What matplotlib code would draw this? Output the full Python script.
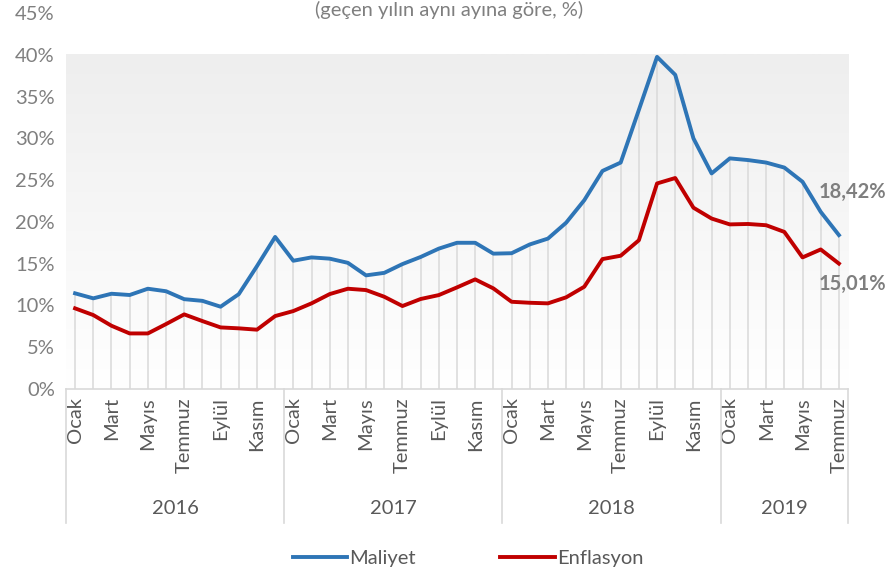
import matplotlib
matplotlib.use("Agg")
import matplotlib.pyplot as plt
import numpy as np

# monthly yoy change, Jan 2016 - Jul 2019 (%)
maliyet = [11.45, 10.85, 11.4, 11.25, 12.0, 11.7, 10.75, 10.55, 9.85, 11.35, 14.7, 18.2,
           15.35, 15.75, 15.6, 15.1, 13.6, 13.9, 14.95, 15.8, 16.8, 17.5, 17.5, 16.2,
           16.25, 17.3, 18.0, 19.9, 22.6, 26.1, 27.1, 33.4, 39.75, 37.6, 30.0, 25.8,
           27.6, 27.4, 27.1, 26.5, 24.8, 21.2, 18.42]
enflasyon = [9.65, 8.85, 7.57, 6.65, 6.65, 7.77, 8.93, 8.13, 7.37, 7.26, 7.1, 8.73,
             9.33, 10.25, 11.36, 12.0, 11.84, 11.04, 9.93, 10.77, 11.24, 12.16, 13.12, 12.04,
             10.44, 10.32, 10.25, 10.97, 12.24, 15.55, 15.95, 17.8, 24.6, 25.25, 21.7, 20.4,
             19.7, 19.75, 19.6, 18.8, 15.75, 16.7, 15.01]
aylar = ["Ocak", "Şubat", "Mart", "Nisan", "Mayıs", "Haziran", "Temmuz",
         "Ağustos", "Eylül", "Ekim", "Kasım", "Aralık"]
yillar = ["2016", "2017", "2018", "2019"]
ay_sayisi = [12, 12, 12, 7]

plt.rcParams['font.family'] = ['Lato', 'DejaVu Sans']
gray = "#595959"
lgray = "#d9d9d9"
blue = "#2e75b6"
red = "#c00000"
fs = 14.5

fig = plt.figure(figsize=(8.88, 5.74), dpi=100)
ax = fig.add_axes([66/888, 1-389/574, (848-66)/888, (389-13)/574])

n = len(maliyet)
x = np.arange(n)
m = np.array(maliyet) / 100
e = np.array(enflasyon) / 100

# gradient background
grad = np.linspace(1, 0, 256).reshape(-1, 1)
cmap = matplotlib.colors.LinearSegmentedColormap.from_list("g", ["#ffffff", "#eeeeee"])
ax.imshow(grad, aspect="auto", cmap=cmap, extent=(-0.5, n-0.5, 0, 0.40),
          origin="upper", zorder=0)

# drop lines
ax.vlines(x, 0, np.maximum(m, e), color=lgray, lw=1.1, zorder=1)

ax.plot(x, m, color=blue, lw=2.8, label="Maliyet", zorder=3)
ax.plot(x, e, color=red, lw=2.8, label="Enflasyon", zorder=3)

ax.set_xlim(-0.5, n-0.5)
ax.set_ylim(0, 0.45)
yt = np.arange(0, 0.46, 0.05)
ax.set_yticks(yt)
ax.set_yticklabels([f"{int(round(v*100))}%" for v in yt])
ax.tick_params(axis="y", length=0, labelsize=fs, pad=8, labelcolor="#7f7f7f")
for s in ["top", "right", "left"]:
    ax.spines[s].set_visible(False)
ax.spines["bottom"].set_color(lgray)
ax.spines["bottom"].set_linewidth(1.2)

# month labels (every other month)
labels = []
for c in ay_sayisi:
    labels += aylar[:c]
ax.set_xticks(x[::2])
ax.set_xticklabels(labels[::2], rotation=90, va="top", ha="center")
ax.tick_params(axis="x", length=0, labelcolor=gray, labelsize=fs, pad=6)

# year groups
trans = ax.get_xaxis_transform()
start = 0
bounds = [-0.5]
for yil, c in zip(yillar, ay_sayisi):
    mid = start + (c - 1) / 2
    ax.text(mid, -0.318, yil, transform=trans, ha="center", va="center",
            fontsize=fs, color=gray)
    start += c
    bounds.append(start - 0.5)
for b in bounds:
    ax.plot([b, b], [0, -0.357], transform=trans, color=lgray, lw=1.2, clip_on=False)

# end labels
ax.annotate(f"{maliyet[-1]:.2f}%".replace(".", ","), (x[-1], m[-1]),
            xytext=(10, 31), textcoords="offset points", ha="center", va="center",
            fontsize=fs, fontweight="bold", color="#7f7f7f")
ax.annotate(f"{enflasyon[-1]:.2f}%".replace(".", ","), (x[-1], e[-1]),
            xytext=(10, -14.5), textcoords="offset points", ha="center", va="center",
            fontsize=fs, fontweight="bold", color="#7f7f7f")

fig.text(449/888, 1-1/574, "(geçen yılın aynı ayına göre, %)", ha="center", va="top",
         fontsize=fs, color="#7f7f7f")

fig.legend(loc="center", bbox_to_anchor=(468/888, 1-558/574), ncol=2, frameon=False,
           fontsize=fs, labelcolor=gray, handlelength=2.7, handletextpad=0.1,
           columnspacing=4.2)

fig.savefig("out.png", dpi=100)
